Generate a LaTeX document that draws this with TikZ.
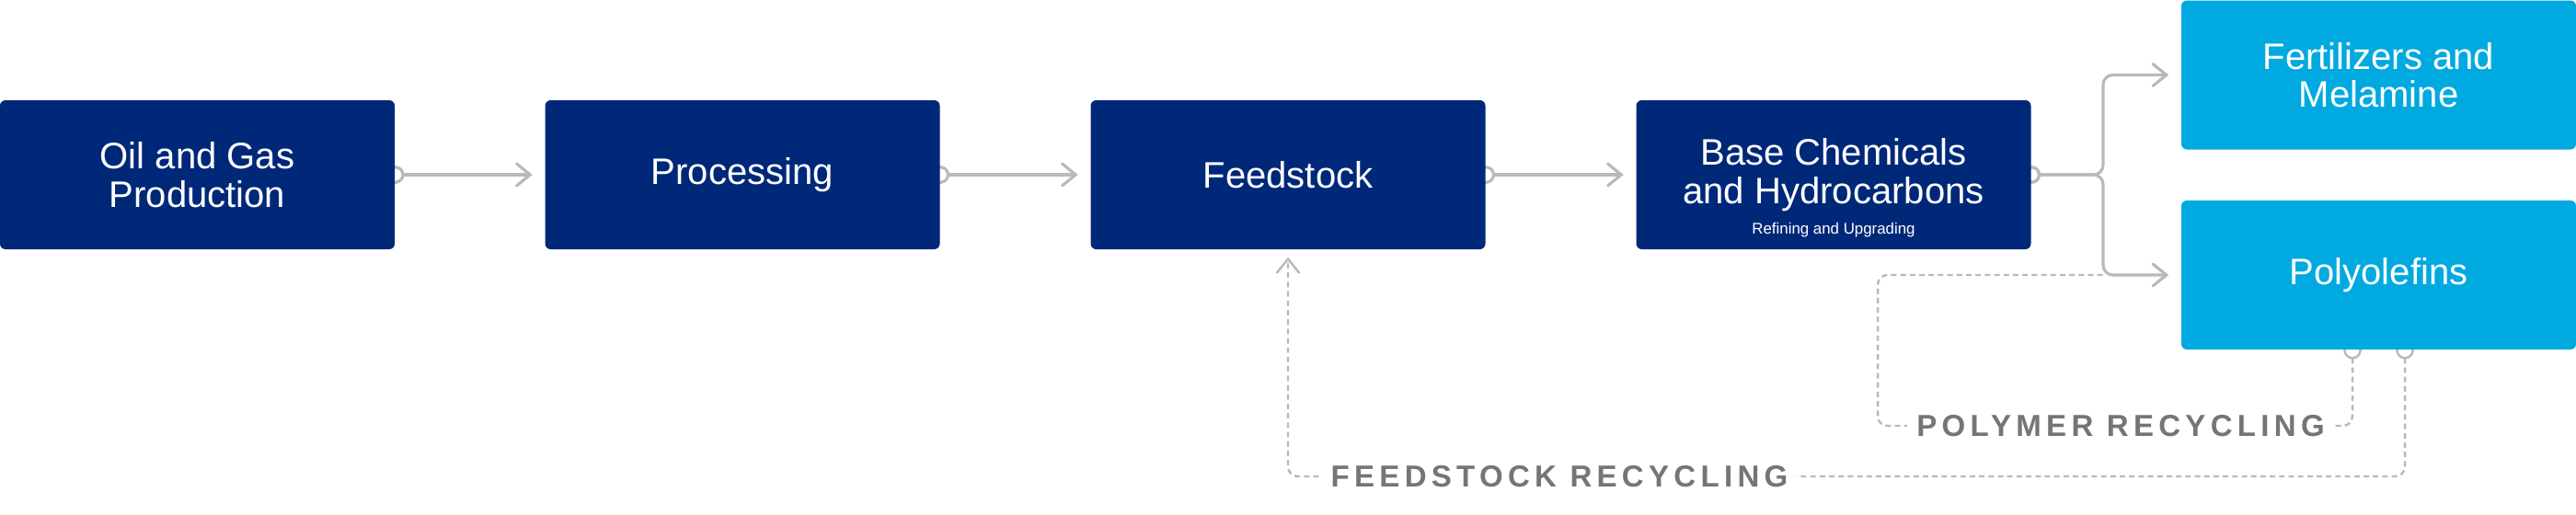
\documentclass[tikz,border=0pt]{standalone}
\usepackage{fontspec}
\setmainfont{Liberation Sans}
\usetikzlibrary{arrows.meta,backgrounds}

\definecolor{navy}{RGB}{0,40,120}
\definecolor{sky}{RGB}{0,169,224}
\definecolor{wire}{RGB}{185,185,185}
\definecolor{loopgray}{RGB}{117,117,117}

\tikzset{
    ringtip/.tip={Circle[open,length=5.6pt,width=5.6pt]},
    chevron/.tip={Straight Barb[length=4.2pt,width=6.8pt,line cap=round]},
    mainbox/.style={fill=navy, text=white, rounded corners=1.7pt, inner sep=0pt,
        minimum width=4.29cm, minimum height=1.62cm, align=center,
        font=\fontsize{11.4}{11.8}\selectfont},
    outbox/.style={mainbox, fill=sky},
    subnote/.style={text=white, inner sep=0pt, font=\fontsize{4.8}{6}\selectfont},
    flow/.style={draw=wire, line width=0.9pt, rounded corners=3pt,
        ringtip-chevron, shorten <=-2.8pt, shorten >=0.13cm},
    recycle/.style={flow, line width=0.7pt, dash pattern=on 1.7pt off 1.2pt},
    looplabel/.style={fill=white, text=loopgray, inner xsep=0.1cm, inner ysep=2pt,
        font=\fontsize{9.4}{11}\selectfont\bfseries\addfontfeature{LetterSpace=16}}
}

\begin{document}
\begin{tikzpicture}
    \useasboundingbox (0,0) rectangle (28,5.59);
    %\draw[help lines] (0,0) grid (28,5.59);
    \node[mainbox] (oil)  at (2.145,3.69) {Oil and Gas\\Production};
    \node[mainbox] (proc) at (8.07,3.69)  {Processing};
    \node[mainbox] (feed) at (14.00,3.69) {Feedstock};
    \node[mainbox] (base) at (19.93,3.69) {Base Chemicals\\and Hydrocarbons};
    \node[subnote] (refine) at (19.93,3.09) {Refining and Upgrading};
    \node[outbox] (fert) at (25.855,4.775) {Fertilizers and\\Melamine};
    \node[outbox] (poly) at (25.855,2.60)  {Polyolefins};
    \coordinate (split) at (22.86,3.69);
    \coordinate (polyturn) at (20.41,0.96);
    \coordinate (feedturn) at (14.00,0.41);
    \begin{scope}[on background layer]
        \draw[flow] (oil)  -- (proc);
        \draw[flow] (proc) -- (feed);
        \draw[flow] (feed) -- (base);
        \draw[flow] (base.east) -- (split) |- (fert.west);
        \draw[flow] (base.east) -- (split) |- (poly.west);
        % loops back from the polyolefins
        \draw[recycle, ringtip-, shorten >=0pt] ([xshift=-2.85mm]poly.south) |- (polyturn) |- (split |- poly.west);
        \draw[recycle, shorten >=0.08cm] ([xshift=2.85mm]poly.south) |- (feedturn) -- (feed.south);
    \end{scope}
    \node[looplabel] (polylab) at (23.05,0.96) {POLYMER RECYCLING};
    \node[looplabel] (feedlab) at (16.95,0.41) {FEEDSTOCK RECYCLING};
\end{tikzpicture}
\end{document}
